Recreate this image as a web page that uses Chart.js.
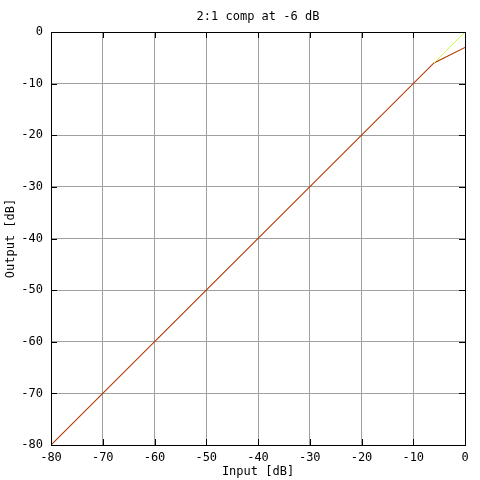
<!DOCTYPE html>
<html>
<head>
<meta charset="utf-8">
<script src="https://cdn.jsdelivr.net/npm/chart.js@4"></script>
<style>
  html, body { margin: 0; padding: 0; background: #fff; }
  #wrap { width: 480px; height: 480px; }
</style>
</head>
<body>
<div id="wrap"><canvas id="compGraph"></canvas></div>
<script>
// transfer curve of a 2:1 compressor, threshold -6 dB
var inputLevels = [-80, -6, 0];
var outputLevels = [-80, -6, -3];
// 1:1 line above the threshold
var unityInput = [-6, 0];
var unityOutput = [-6, 0];
var tickValues = [-80, -70, -60, -50, -40, -30, -20, -10, 0];

var monoFont = "'DejaVu Sans Mono', 'Liberation Mono', monospace";

function toPoints(xs, ys) {
    var pts = [];
    for (var i = 0; i < xs.length; i++) pts.push({x: xs[i], y: ys[i]});
    return pts;
}

// gnuplot style frame: black border, short inward ticks on all four sides
var frameTicks = {
    id: 'frameTicks',
    afterDatasetsDraw: function(chart) {
        var ctx = chart.ctx, a = chart.chartArea;
        var xs = chart.scales.x, ys = chart.scales.y;
        var len = 6;
        ctx.save();
        ctx.strokeStyle = '#000';
        ctx.lineWidth = 1;
        ctx.beginPath();
        tickValues.forEach(function(v) {
            var px = Math.round(xs.getPixelForValue(v)) + 0.5;
            ctx.moveTo(px, a.bottom); ctx.lineTo(px, a.bottom - len);
            ctx.moveTo(px, a.top); ctx.lineTo(px, a.top + len);
            var py = Math.round(ys.getPixelForValue(v)) + 0.5;
            ctx.moveTo(a.left, py); ctx.lineTo(a.left + len, py);
            ctx.moveTo(a.right, py); ctx.lineTo(a.right - len, py);
        });
        ctx.stroke();
        ctx.strokeRect(Math.round(a.left) + 0.5, Math.round(a.top) + 0.5,
                       Math.round(a.right - a.left), Math.round(a.bottom - a.top));
        ctx.restore();
    }
};

var compConfig = {
    type: 'scatter',
    data: {
        datasets: [{
            label: '1:1',
            data: toPoints(unityInput, unityOutput),
            showLine: true,
            borderColor: '#c4ff40',
            borderWidth: 1,
            pointRadius: 0,
            fill: false
        }, {
            label: '2:1 comp',
            data: toPoints(inputLevels, outputLevels),
            showLine: true,
            borderColor: '#b03800',
            borderWidth: 1.1,
            pointRadius: 0,
            fill: false
        }]
    },
    options: {
        responsive: false,
        animation: false,
        devicePixelRatio: 1,
        layout: { padding: { left: 0, right: 15, top: 0, bottom: 0 } },
        plugins: {
            legend: { display: false },
            tooltip: { enabled: false },
            title: {
                display: true,
                fullSize: false,
                text: '2:1 comp at -6 dB',
                color: '#000',
                font: { family: monoFont, size: 12, weight: 'normal' },
                padding: { top: 9.5, bottom: 8.1 }
            }
        },
        scales: {
            x: {
                type: 'linear',
                min: -80, max: 0,
                afterFit: function(s) { s.height = 35; },
                afterBuildTicks: function(s) { s.ticks = tickValues.map(function(v) { return {value: v}; }); },
                grid: { color: '#a0a0a0', lineWidth: 1, drawTicks: false },
                border: { display: false },
                ticks: {
                    color: '#000', padding: 6, maxRotation: 0, autoSkip: false,
                    font: { family: monoFont, size: 12 }
                },
                title: {
                    display: true, text: 'Input [dB]', color: '#000',
                    font: { family: monoFont, size: 12 },
                    padding: { top: 0, bottom: 1 }
                }
            },
            y: {
                type: 'linear',
                min: -80, max: 0,
                afterFit: function(s) { s.width = 51; },
                afterBuildTicks: function(s) { s.ticks = tickValues.map(function(v) { return {value: v}; }); },
                grid: { color: '#a0a0a0', lineWidth: 1, drawTicks: false },
                border: { display: false },
                ticks: {
                    color: '#000', padding: 8, autoSkip: false,
                    font: { family: monoFont, size: 12 }
                },
                title: {
                    display: true, text: 'Output [dB]', color: '#000',
                    font: { family: monoFont, size: 12 },
                    padding: { top: 4, bottom: 0 }
                }
            }
        }
    },
    plugins: [frameTicks]
};

var compCanvas = document.getElementById('compGraph');
compCanvas.width = 480;
compCanvas.height = 480;
var compChart = new Chart(compCanvas, compConfig);
</script>
</body>
</html>
